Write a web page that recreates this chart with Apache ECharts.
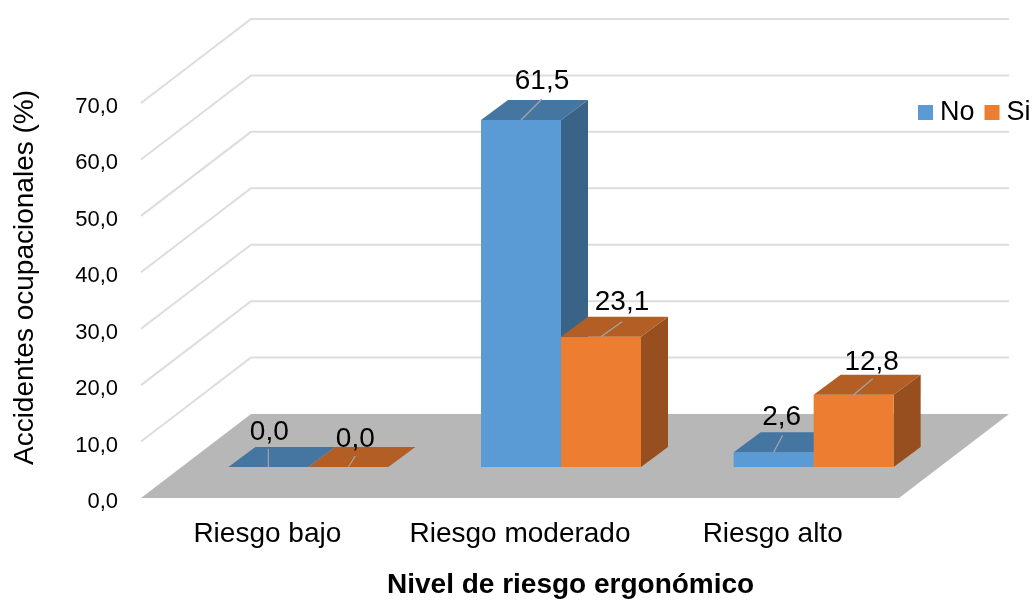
<!DOCTYPE html>
<html>
<head>
<meta charset="utf-8">
<style>html,body{margin:0;padding:0;background:#fff}#c{width:1034px;height:601px}</style>
<script src="https://cdn.jsdelivr.net/npm/echarts@6/dist/echarts.min.js"></script>
</head>
<body>
<div id="c"></div>
<script>
const categories = ['Riesgo bajo', 'Riesgo moderado', 'Riesgo alto'];
const noValues = [0.0, 61.5, 2.6];
const siValues = [0.0, 23.1, 12.8];
const axisTicks = [10, 20, 30, 40, 50, 60, 70];
const seriesNames = ['No', 'Si'];
const xTitle = 'Nivel de riesgo ergonómico';
const yTitle = 'Accidentes ocupacionales (%)';

// Oblique projection
const WALL_DX = 110, WALL_DY = -84;
const BAR_SHIFT_X = 41, BAR_SHIFT_Y = -31;
const BAR_W = 80, BAR_DX = 27, BAR_DY = -20;
const FONT = '"Liberation Sans", Arial, sans-serif';
const comma = v => v.toFixed(1).replace('.', ',');

// Leader line end and label centre offsets, from the middle of each bar's top front edge
const noLabelOffsets = [{l:[0,-18],t:[1,-35]},{l:[21,-21],t:[21,-39]},{l:[9,-17],t:[8,-35]}];
const siLabelOffsets = [{l:[7,-11],t:[7,-28]},{l:[21,-15],t:[21,-34]},{l:[19,-16],t:[18,-32]}];

function poly(points, fill, z2) {
  return {type:'polygon', shape:{points}, style:{fill, stroke:null}, z2:z2||0};
}

function makeBars(colors, side, offsets) {
  return function (params, api) {
    const cat = api.value(0), val = api.value(1);
    const c0 = api.coord([cat, 0]), c1 = api.coord([cat, val]);
    const xL = c0[0] + BAR_SHIFT_X + (side === 0 ? -BAR_W : 0);
    const xR = xL + BAR_W;
    const yB = c0[1] + BAR_SHIFT_Y;
    const yT = c1[1] + BAR_SHIFT_Y;
    const children = [];
    if (yB - yT > 0.5) {
      children.push(poly([[xR,yT],[xR+BAR_DX,yT+BAR_DY],[xR+BAR_DX,yB+BAR_DY],[xR,yB]], colors.side));
      children.push(poly([[xL,yT],[xR,yT],[xR,yB],[xL,yB]], colors.front));
    }
    children.push(poly([[xL,yT],[xR,yT],[xR+BAR_DX,yT+BAR_DY],[xL+BAR_DX,yT+BAR_DY]], colors.top));
    const o = offsets[cat], mx = (xL + xR) / 2;
    children.push({type:'line', shape:{x1:mx,y1:yT,x2:mx+o.l[0],y2:yT+o.l[1]},
      style:{stroke:'#a6a6a6', lineWidth:1.2}, z2:5});
    children.push({type:'text', x:mx+o.t[0], y:yT+o.t[1], z2:50,
      style:{text:comma(val), fill:'#000', font:'28px '+FONT, align:'center', verticalAlign:'middle'}});
    return {type:'group', children};
  };
}

const blue = {front:'#5B9BD5', top:'#4575A1', side:'#3A6487'};
const orange = {front:'#ED7D31', top:'#B25E25', side:'#974F1F'};

const option = {
  animation:false,
  backgroundColor:'#fff',
  title:{text:xTitle, left:387, top:571, padding:0,
    textStyle:{fontFamily:FONT, fontSize:28, fontWeight:'bold', color:'#000'}},
  legend:{data:seriesNames, left:918, top:99, itemWidth:15, itemHeight:15, itemGap:10, selectedMode:false,
    icon:'rect', padding:0,
    textStyle:{fontFamily:FONT, fontSize:27, color:'#000', padding:[2,0,0,2]}},
  grid:{left:141, right:135, top:103, bottom:103},
  xAxis:{type:'category', data:categories, axisLine:{show:false}, axisTick:{show:false}, splitLine:{show:false},
    axisLabel:{fontFamily:FONT, fontSize:28, color:'#000', margin:22, interval:0, hideOverlap:false}},
  yAxis:{type:'value', min:0, max:70, interval:10, axisLine:{show:false}, axisTick:{show:false}, splitLine:{show:false},
    axisLabel:{fontFamily:FONT, fontSize:22, color:'#000', margin:23, verticalAlign:'top', lineHeight:8, formatter:comma},
    name:yTitle, nameLocation:'middle', nameGap:102, nameRotate:90,
    nameTextStyle:{fontFamily:FONT, fontSize:28, color:'#000', padding:[0,0,0,46]}},
  series:[
    {type:'custom', name:'floor', silent:true, z:1, clip:false, data:[[0,0]], encode:{x:0,y:1},
      renderItem:function(params, api){
        const cs = params.coordSys, y0 = api.coord([0,0])[1];
        const x0 = cs.x, x1 = cs.x + cs.width;
        return poly([[x0,y0],[x1,y0],[x1+WALL_DX,y0+WALL_DY],[x0+WALL_DX,y0+WALL_DY]], '#B7B7B7');
      }},
    {type:'custom', name:'walls', silent:true, z:2, clip:false, data:axisTicks.map(v=>[0,v]), encode:{x:0,y:1},
      renderItem:function(params, api){
        const cs = params.coordSys, y = api.coord([0,api.value(1)])[1];
        const x0 = cs.x, x1 = cs.x + cs.width;
        return {type:'polyline', shape:{points:[[x0,y],[x0+WALL_DX,y+WALL_DY],[x1+WALL_DX,y+WALL_DY]]},
          style:{stroke:'#DDDDDD', lineWidth:2, fill:null}};
      }},
    {type:'custom', name:'No', z:3, clip:false, itemStyle:{color:blue.front},
      data:noValues.map((v,i)=>[i,v]), encode:{x:0,y:1}, renderItem:makeBars(blue,0,noLabelOffsets)},
    {type:'custom', name:'Si', z:4, clip:false, itemStyle:{color:orange.front},
      data:siValues.map((v,i)=>[i,v]), encode:{x:0,y:1}, renderItem:makeBars(orange,1,siLabelOffsets)}
  ]
};
echarts.init(document.getElementById('c'), null, {renderer:'canvas'}).setOption(option);
</script>
</body>
</html>
